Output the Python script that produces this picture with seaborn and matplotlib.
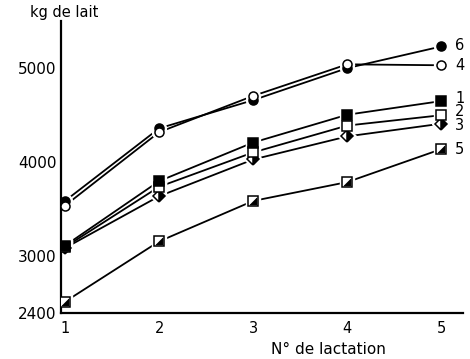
import matplotlib
matplotlib.use("Agg")
import matplotlib.pyplot as plt
import seaborn as sns
import pandas as pd
import numpy as np

sns.set_theme(style="white")
plt.rcParams['font.family'] = ['DejaVu Sans']

lactation = [1, 2, 3, 4, 5]
g1 = [3115, 3800, 4210, 4505, 4650]
g2 = [3100, 3740, 4105, 4390, 4500]
g3 = [3090, 3640, 4030, 4275, 4410]
g4 = [3540, 4320, 4705, 5040, 5030]
g5 = [2520, 3160, 3590, 3790, 4140]
g6 = [3590, 4360, 4660, 5000, 5230]
group_names = ["5", "3", "2", "6", "4", "1"]
series = {"1": g1, "2": g2, "3": g3, "4": g4, "5": g5, "6": g6}
label_y = {"6": 5245, "4": 5030, "1": 4680, "2": 4535, "3": 4390, "5": 4140}
y_tick_labels = [2400, 3000, 4000, 5000]

rows = []
for g, vals in series.items():
    for x, v in zip(lactation, vals):
        rows.append({"lactation": x, "kg": v, "groupe": g})
df = pd.DataFrame(rows)

fig = plt.figure(figsize=(4.7, 3.59), dpi=100)
ax = fig.add_axes([61/470, 1-313/359, (463-61)/470, (313-21)/359])

# lines
for g in group_names:
    sub = df[df.groupe == g]
    sns.lineplot(data=sub, x="lactation", y="kg", color="black", lw=1.3,
                 ax=ax, zorder=1, legend=False)

marker_style = {
    "1": dict(marker="s", mfc="black", fillstyle="full", ms=6.5),
    "2": dict(marker="s", mfc="white", fillstyle="full", ms=6.5),
    "3": dict(marker="D", mfc="black", fillstyle="right", ms=6, markerfacecoloralt="white"),
    "4": dict(marker="o", mfc="white", fillstyle="full", ms=6.5),
    "5": dict(marker="s", mfc="white", fillstyle="full", ms=6.5),
    "6": dict(marker="o", mfc="black", fillstyle="full", ms=6.5),
}

# white halos first (gap between line and marker)
for g in group_names:
    sub = df[df.groupe == g]
    st = marker_style[g]
    ax.plot(sub.lactation, sub.kg, linestyle="none", marker=st["marker"],
            ms=st["ms"] + 3.5, mfc="white", mec="white", zorder=2)

z = 3
for g in group_names:
    sub = df[df.groupe == g]
    st = marker_style[g]
    ax.plot(sub.lactation, sub.kg, linestyle="none", mec="black", mew=1.1,
            zorder=z, **st)
    if g == "5":
        tri = [(1, -1), (1, 1), (-1, -1), (1, -1)]
        ax.plot(sub.lactation, sub.kg, linestyle="none", marker=tri,
                ms=5, mfc="black", mec="black", mew=0.5, zorder=z + 0.5)
    z += 1

for g, yv in label_y.items():
    ax.text(5.145, yv, g, fontsize=10.5, va="center", ha="left", color="black")

ax.set_xlim(0.957, 5.23)
ax.set_ylim(2400, 5500)
ax.set_xticks(lactation)
ax.set_xticklabels([str(v) for v in lactation], fontsize=10.5, color="black")
yt = np.arange(2400, 5201, 200)
ax.set_yticks(yt)
ax.set_yticklabels([str(v) if v in y_tick_labels else "" for v in yt],
                   fontsize=11, color="black")
ax.tick_params(axis="y", direction="in", length=6, width=1.3, color="black", pad=3)
ax.tick_params(axis="x", direction="in", length=5, width=1.3, color="black", pad=6)
for s in ["top", "right"]:
    ax.spines[s].set_visible(False)
for s in ["left", "bottom"]:
    ax.spines[s].set_color("black")
    ax.spines[s].set_linewidth(1.6)
ax.set_xlabel("")
ax.set_ylabel("")
fig.text(64/470, 1-12/359, "kg de lait", ha="center", va="center", fontsize=10.5, color="black")
fig.text(328/470, 1-350/359, "N° de lactation", ha="center", va="center", fontsize=11, color="black")

fig.savefig("out.png", dpi=100)
